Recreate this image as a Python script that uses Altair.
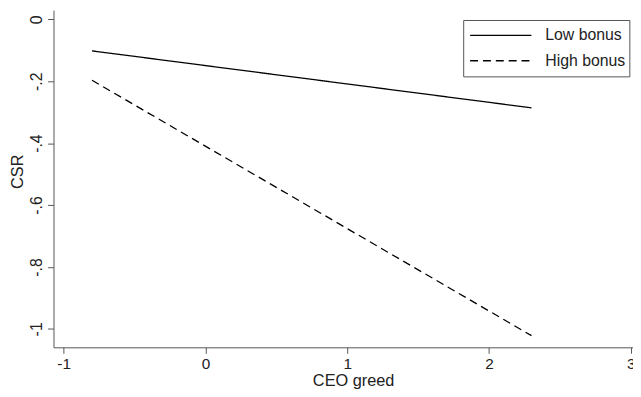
import altair as alt
import pandas as pd

greed = [-0.8, 2.3]
low_bonus = [-0.102, -0.286]
high_bonus = [-0.197, -1.022]
groups = ["Low bonus", "High bonus"]
x_ticks = [-1, 0, 1, 2, 3]
y_ticks = [0, -0.2, -0.4, -0.6, -0.8, -1]

rows = []
for g, vals in zip(groups, [low_bonus, high_bonus]):
    for x, y in zip(greed, vals):
        rows.append({"greed": x, "csr": y, "group": g})
df = pd.DataFrame(rows)

FONT = "Liberation Sans"
AXIS_COLOR = "#555555"
TEXT_COLOR = "#222222"

chart = alt.Chart(df).mark_line(color="black", strokeWidth=1.3).encode(
    x=alt.X(
        "greed:Q",
        scale=alt.Scale(domain=[-1.0718, 3.016], nice=False, zero=False),
        axis=alt.Axis(
            values=x_ticks, title="CEO greed", grid=False, tickSize=6,
            labelExpr="toString(datum.value)", labelPadding=3, titlePadding=1,
            titleX=303, labelFontSize=15.5,
            domainColor=AXIS_COLOR, tickColor=AXIS_COLOR,
        ),
    ),
    y=alt.Y(
        "csr:Q",
        scale=alt.Scale(domain=[-1.0597, 0.0297], nice=False, zero=False),
        axis=alt.Axis(
            values=y_ticks, title="CSR", grid=False, tickSize=6,
            labelExpr="datum.value == 0 ? '0' : (datum.value <= -0.99 ? '-1' : '-.' + toString(round(-datum.value * 10)))",
            labelAngle=270, labelAlign="center", labelBaseline="bottom",
            labelPadding=3, titlePadding=3, titleY=163, labelFontSize=16,
            domainColor=AXIS_COLOR, tickColor=AXIS_COLOR,
        ),
    ),
    strokeDash=alt.StrokeDash(
        "group:N",
        scale=alt.Scale(domain=groups, range=[[1, 0], [8, 5]]),
        legend=alt.Legend(
            title=None, orient="none", legendX=414.3, legendY=10,
            strokeColor=AXIS_COLOR, fillColor="white", padding=4,
            symbolType="stroke", symbolSize=3844, symbolStrokeWidth=1.3,
            symbolStrokeColor="black", symbolOffset=2,
            labelFontSize=16, labelOffset=13,
            clipHeight=23, rowPadding=2.7, labelFont=FONT, labelColor=TEXT_COLOR,
        ),
    ),
).properties(
    width=586, height=341,
    autosize=alt.AutoSizeParams(type="none"),
    padding={"left": 46, "top": 0, "right": 0, "bottom": 40},
).configure_view(stroke=None).configure_axis(
    labelFont=FONT, titleFont=FONT, titleFontSize=16.5,
    labelColor=TEXT_COLOR, titleColor=TEXT_COLOR, titleFontWeight="normal",
    domainWidth=1, tickWidth=1,
)

chart.save("out.html", embed_options={"renderer": "svg", "actions": False})
